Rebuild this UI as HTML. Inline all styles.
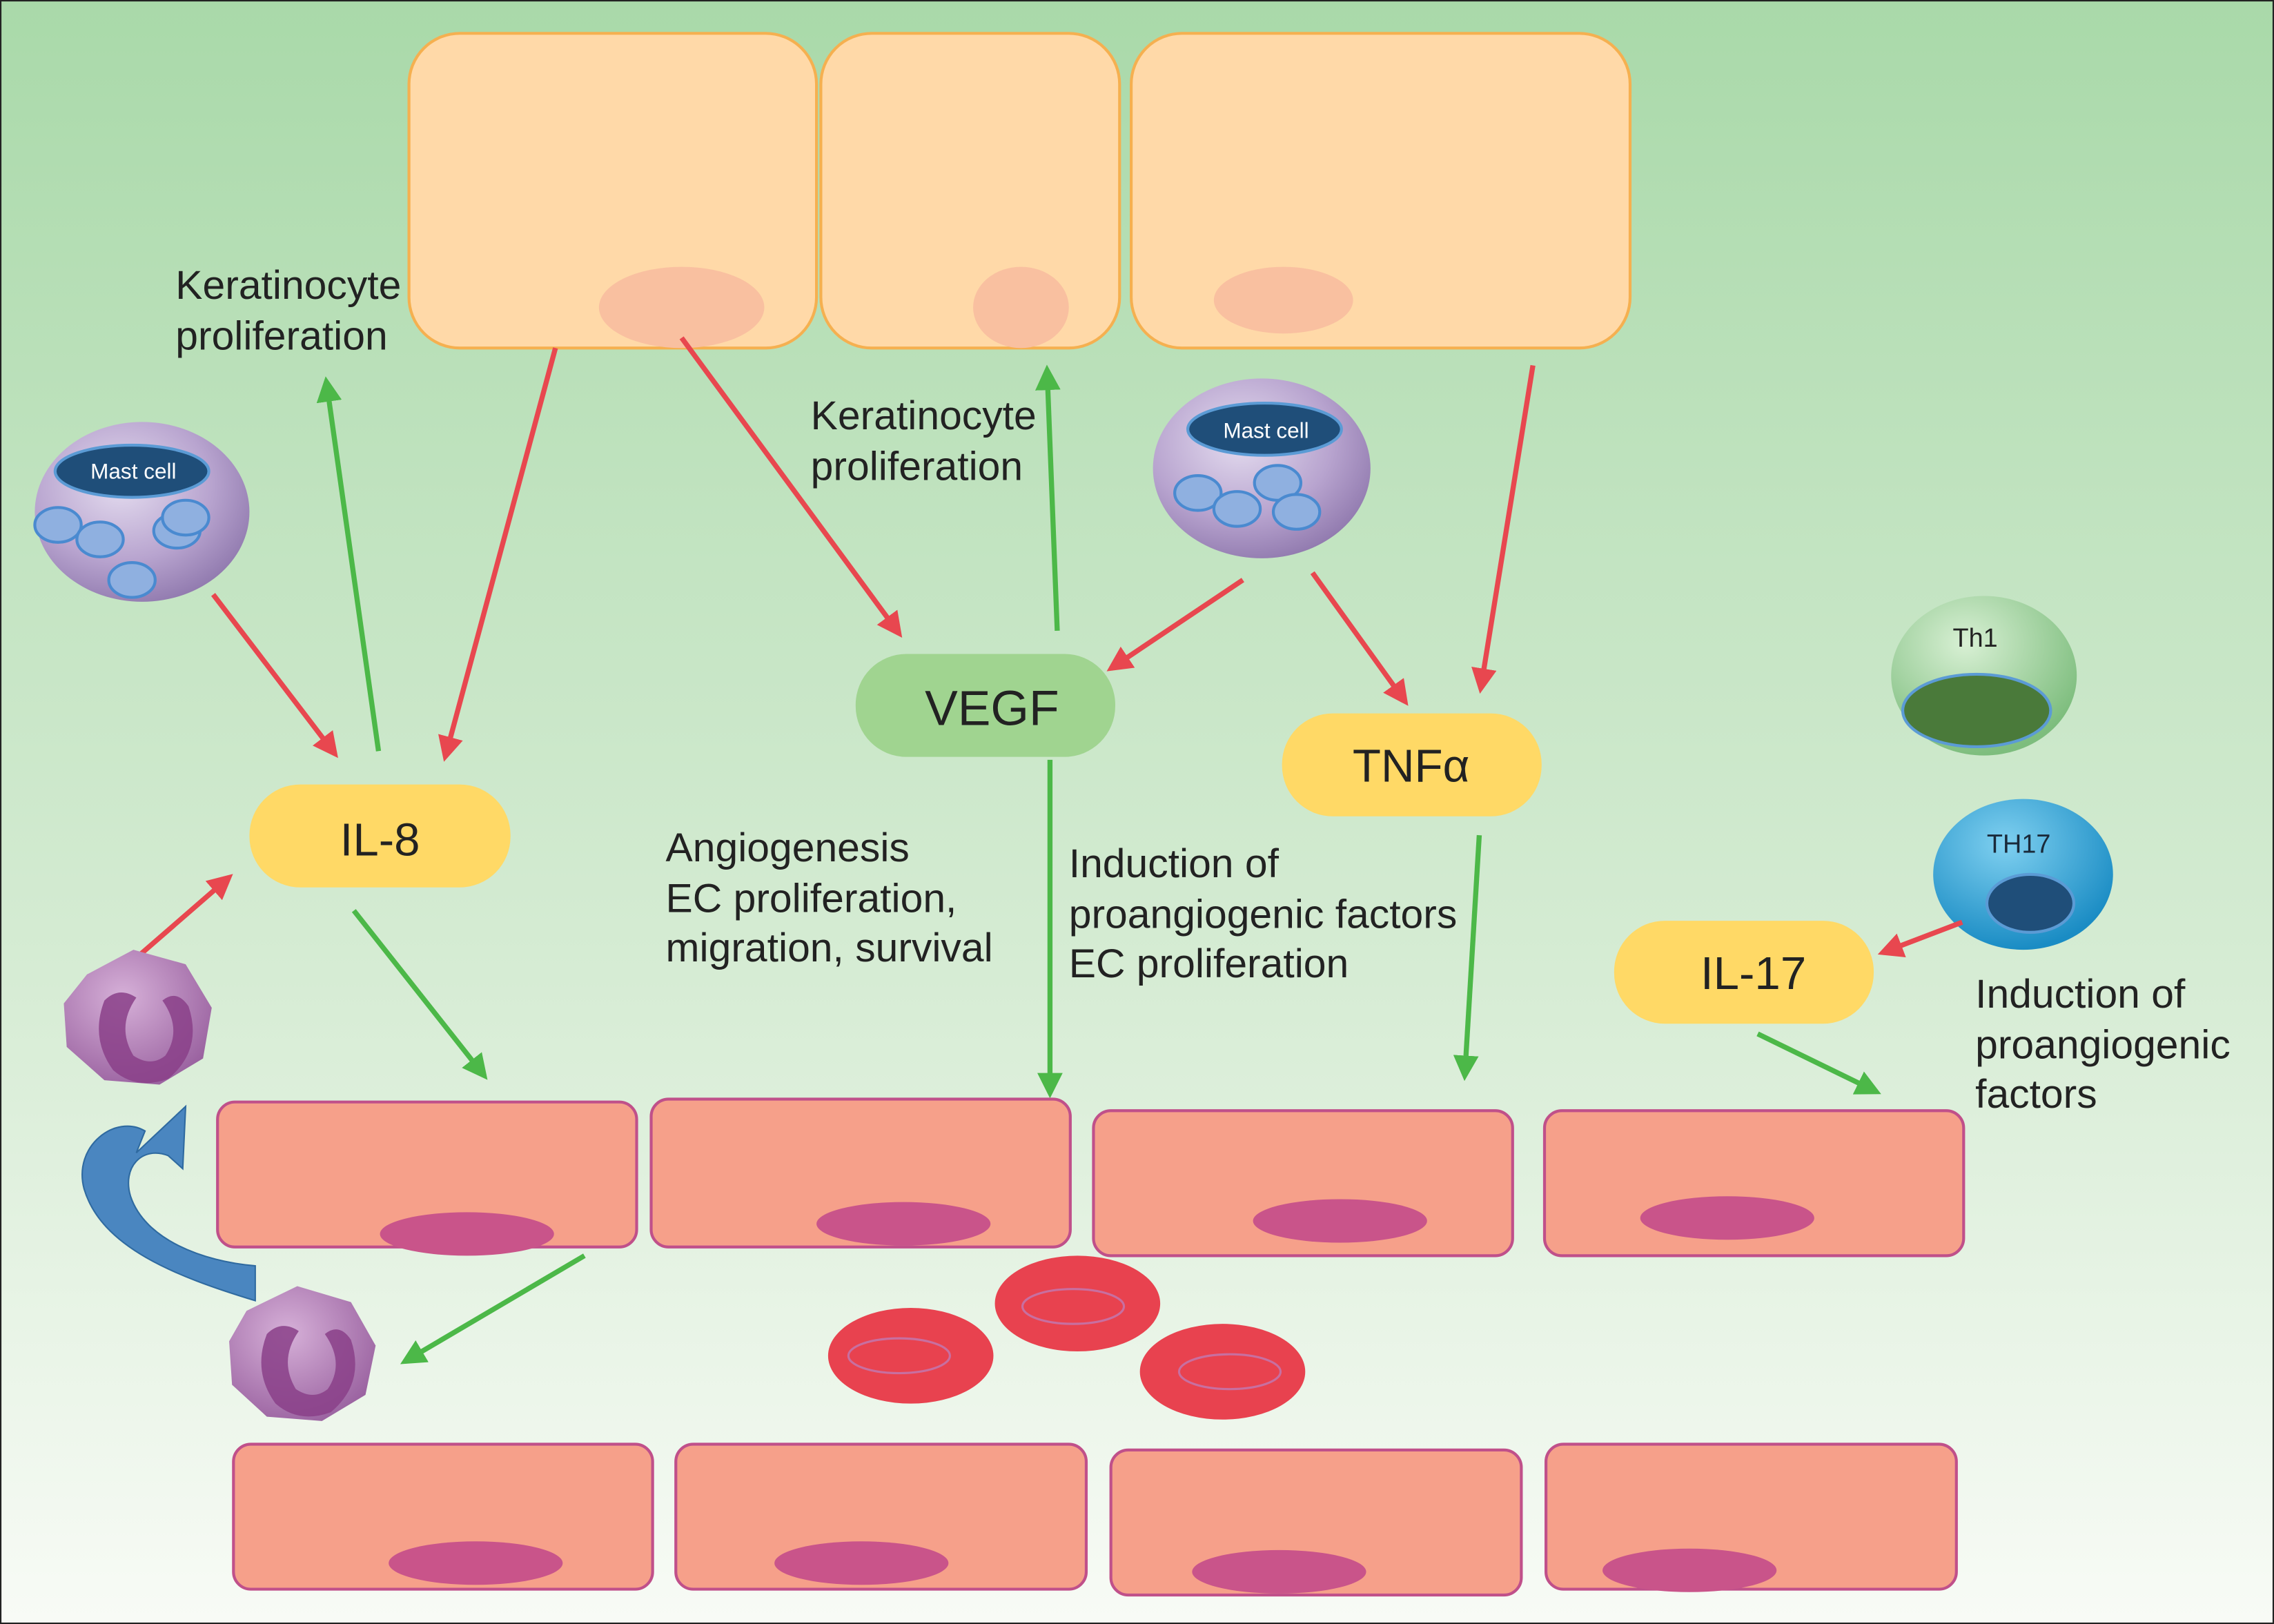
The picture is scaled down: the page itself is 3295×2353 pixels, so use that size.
<!DOCTYPE html>
<html><head><meta charset="utf-8"><style>html,body{margin:0;padding:0;}svg{display:block;}</style></head><body>
<svg width="3295" height="2353" viewBox="0 0 1568 1120" preserveAspectRatio="none" xmlns="http://www.w3.org/2000/svg" font-family="Liberation Sans, sans-serif">
<defs>
<linearGradient id="bg" x1="0" y1="0" x2="0" y2="1"><stop offset="0" stop-color="#a9d9a9"/><stop offset="0.6" stop-color="#d6ecd4"/><stop offset="1" stop-color="#f8fbf6"/></linearGradient>
<radialGradient id="mast" cx="0.4" cy="0.35" r="0.7"><stop offset="0" stop-color="#e4dcef"/><stop offset="0.6" stop-color="#b8a4cf"/><stop offset="1" stop-color="#8f78ad"/></radialGradient>
<radialGradient id="th1" cx="0.4" cy="0.3" r="0.7"><stop offset="0" stop-color="#d8f0d4"/><stop offset="1" stop-color="#7dbd7d"/></radialGradient>
<radialGradient id="th17" cx="0.4" cy="0.3" r="0.7"><stop offset="0" stop-color="#7fd0f0"/><stop offset="1" stop-color="#1a8cc4"/></radialGradient>
<radialGradient id="neu" cx="0.4" cy="0.35" r="0.7"><stop offset="0" stop-color="#d6b0d8"/><stop offset="1" stop-color="#9a62a0"/></radialGradient>
<marker id="ar" markerWidth="5" markerHeight="5" refX="4" refY="2.5" orient="auto" markerUnits="strokeWidth"><path d="M0,0 L5,2.5 L0,5 z" fill="#e8474f"/></marker>
<marker id="ag" markerWidth="5" markerHeight="5" refX="4" refY="2.5" orient="auto" markerUnits="strokeWidth"><path d="M0,0 L5,2.5 L0,5 z" fill="#4cb848"/></marker>
</defs>
<rect x="0.5" y="0.5" width="1567" height="1119" fill="url(#bg)" stroke="#222" stroke-width="1"/>
<g fill="#ffd9a8" stroke="#f5b050" stroke-width="2">
<rect x="282" y="23" width="281" height="217" rx="35"/>
<rect x="566" y="23" width="206" height="217" rx="35"/>
<rect x="780" y="23" width="344" height="217" rx="35"/>
</g>
<g fill="#f9c0a0"><ellipse cx="470" cy="212" rx="57" ry="28"/><ellipse cx="704" cy="212" rx="33" ry="28"/><ellipse cx="885" cy="207" rx="48" ry="23"/></g>
<g font-size="28" fill="#222">
<text x="121" y="206">Keratinocyte</text><text x="121" y="241">proliferation</text>
<text x="559" y="296">Keratinocyte</text><text x="559" y="331">proliferation</text>
<text x="459" y="594">Angiogenesis</text><text x="459" y="629">EC proliferation,</text><text x="459" y="663">migration, survival</text>
<text x="737" y="605">Induction of</text><text x="737" y="640">proangiogenic factors</text><text x="737" y="674">EC proliferation</text>
<text x="1362" y="695">Induction of</text><text x="1362" y="730">proangiogenic</text><text x="1362" y="764">factors</text>
</g>
<ellipse cx="98" cy="353" rx="74" ry="62" fill="url(#mast)"/>
<g fill="#8fb0e0" stroke="#4a8ad0" stroke-width="2"><ellipse cx="40" cy="362" rx="16" ry="12"/><ellipse cx="69" cy="372" rx="16" ry="12"/><ellipse cx="122" cy="366" rx="16" ry="12"/><ellipse cx="128" cy="357" rx="16" ry="12"/><ellipse cx="91" cy="400" rx="16" ry="12"/></g>
<ellipse cx="91" cy="325" rx="53" ry="18" fill="#1f4e79" stroke="#5b9bd5" stroke-width="2"/>
<text x="92" y="330" font-size="15" fill="#fff" text-anchor="middle">Mast cell</text>
<ellipse cx="870" cy="323" rx="75" ry="62" fill="url(#mast)"/>
<g fill="#8fb0e0" stroke="#4a8ad0" stroke-width="2"><ellipse cx="826" cy="340" rx="16" ry="12"/><ellipse cx="853" cy="351" rx="16" ry="12"/><ellipse cx="881" cy="333" rx="16" ry="12"/><ellipse cx="894" cy="353" rx="16" ry="12"/></g>
<ellipse cx="872" cy="296" rx="53" ry="18" fill="#1f4e79" stroke="#5b9bd5" stroke-width="2"/>
<text x="873" y="302" font-size="15" fill="#fff" text-anchor="middle">Mast cell</text>
<ellipse cx="1368" cy="466" rx="64" ry="55" fill="url(#th1)"/>
<ellipse cx="1363" cy="490" rx="51" ry="25" fill="#4a7a3a" stroke="#5b9bd5" stroke-width="2"/>
<text x="1362" y="446" font-size="18" text-anchor="middle" fill="#222">Th1</text>
<ellipse cx="1395" cy="603" rx="62" ry="52" fill="url(#th17)"/>
<ellipse cx="1400" cy="623" rx="30" ry="20" fill="#1f4e79" stroke="#5b9bd5" stroke-width="2"/>
<text x="1392" y="588" font-size="18" text-anchor="middle" fill="#1a2a3a">TH17</text>
<rect x="590" y="451" width="179" height="71" rx="35" fill="#a0d490"/><text x="684" y="500" font-size="34" text-anchor="middle" fill="#222">VEGF</text>
<rect x="172" y="541" width="180" height="71" rx="35" fill="#ffd966"/><text x="262" y="590" font-size="32" text-anchor="middle" fill="#222">IL-8</text>
<rect x="884" y="492" width="179" height="71" rx="35" fill="#ffd966"/><text x="973" y="539" font-size="32" text-anchor="middle" fill="#222">TNFα</text>
<rect x="1113" y="635" width="179" height="71" rx="35" fill="#ffd966"/><text x="1209" y="682" font-size="32" text-anchor="middle" fill="#222">IL-17</text>
<g stroke="#e8474f" stroke-width="3.5" marker-end="url(#ar)">
<line x1="147" y1="410" x2="231" y2="520"/><line x1="383" y1="240" x2="307" y2="522"/><line x1="470" y1="233" x2="620" y2="437"/><line x1="857" y1="400" x2="766" y2="461"/><line x1="905" y1="395" x2="969" y2="484"/><line x1="1057" y1="252" x2="1021" y2="475"/><line x1="1353" y1="636" x2="1298" y2="657"/><line x1="97" y1="658" x2="158" y2="605"/>
</g>
<g stroke="#4cb848" stroke-width="3.5" marker-end="url(#ag)">
<line x1="261" y1="518" x2="225" y2="263"/><line x1="729" y1="435" x2="722" y2="255"/><line x1="244" y1="628" x2="334" y2="742"/><line x1="724" y1="524" x2="724" y2="754"/><line x1="1020" y1="576" x2="1010" y2="742"/><line x1="1212" y1="713" x2="1294" y2="753"/><line x1="403" y1="866" x2="279" y2="939"/>
</g>
<g fill="#f6a08a" stroke="#c0508a" stroke-width="2">
<rect x="150" y="760" width="289" height="100" rx="12"/><rect x="449" y="758" width="289" height="102" rx="12"/><rect x="754" y="766" width="289" height="100" rx="12"/><rect x="1065" y="766" width="289" height="100" rx="12"/>
<rect x="161" y="996" width="289" height="100" rx="12"/><rect x="466" y="996" width="283" height="100" rx="12"/><rect x="766" y="1000" width="283" height="100" rx="12"/><rect x="1066" y="996" width="283" height="100" rx="12"/>
</g>
<g fill="#c9548a">
<ellipse cx="322" cy="851" rx="60" ry="15"/><ellipse cx="623" cy="844" rx="60" ry="15"/><ellipse cx="924" cy="842" rx="60" ry="15"/><ellipse cx="1191" cy="840" rx="60" ry="15"/>
<ellipse cx="328" cy="1078" rx="60" ry="15"/><ellipse cx="594" cy="1078" rx="60" ry="15"/><ellipse cx="882" cy="1084" rx="60" ry="15"/><ellipse cx="1165" cy="1083" rx="60" ry="15"/>
</g>
<g fill="#e8424f"><ellipse cx="628" cy="935" rx="57" ry="33"/><ellipse cx="743" cy="899" rx="57" ry="33"/><ellipse cx="843" cy="946" rx="57" ry="33"/></g>
<g fill="none" stroke="#c86fa0" stroke-width="1.5"><ellipse cx="620" cy="935" rx="35" ry="12"/><ellipse cx="740" cy="901" rx="35" ry="12"/><ellipse cx="848" cy="946" rx="35" ry="12"/></g>
<g>
<path d="M60,672 L92,655 L128,665 L146,695 L140,730 L110,748 L72,745 L46,722 L44,692 Z" fill="url(#neu)"/>
<path d="M72,690 q10,-10 22,-2 q-14,20 -2,40 q12,8 22,0 q12,-18 -2,-38 q10,-8 18,4 q10,30 -14,50 q-22,8 -38,-6 q-16,-22 -6,-48z" fill="#8a3f88" opacity="0.85"/>
<path d="M170,904 L205,887 L242,898 L259,928 L252,962 L222,980 L184,977 L160,955 L158,925 Z" fill="url(#neu)"/>
<path d="M184,920 q10,-10 22,-2 q-14,20 -2,40 q12,8 22,0 q12,-18 -2,-38 q10,-8 18,4 q10,30 -14,50 q-22,8 -38,-6 q-16,-22 -6,-48z" fill="#8a3f88" opacity="0.85"/>
</g>
<path d="M176,897 C120,880 70,860 58,820 C50,790 80,768 100,780 L94,795 L128,763 L126,806 L116,797 C98,790 84,805 90,825 C100,855 140,870 176,873 Z" fill="#4a86c0" stroke="#2f6aa0" stroke-width="1"/>
</svg>
</body></html>
